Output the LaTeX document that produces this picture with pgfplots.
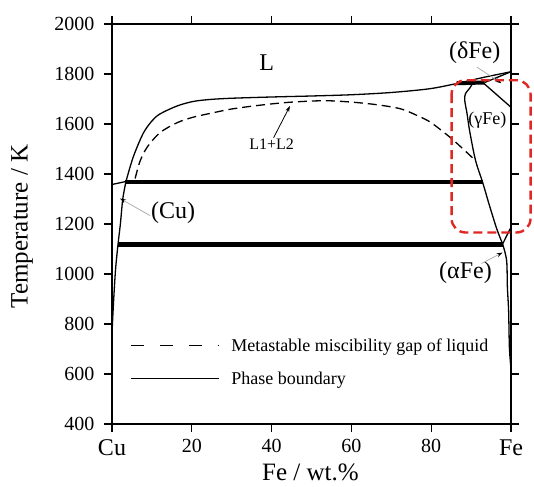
\documentclass[border=0pt]{standalone}
\usepackage{fontspec}
\setmainfont{Liberation Serif}
\usepackage{pgfplots}
\pgfplotsset{compat=1.18}
\usetikzlibrary{arrows.meta}
\definecolor{boxred}{RGB}{222,40,36}
\pgfplotsset{
  pb/.style={black, line width=1.3pt, no marks},
  tl/.style={black, line width=4.2pt, no marks},
  dl/.style={black, line width=1.3pt, no marks, dash pattern=on 9pt off 5pt},
}
\begin{document}
\begin{tikzpicture}
\begin{axis}[
  at={(0,0)}, anchor=south west,
  scale only axis, width=399pt, height=400pt,
  xmin=0, xmax=100, ymin=400, ymax=2000,
  xtick={0,20,40,60,80,100},
  xticklabels={{\fontsize{24}{28}\selectfont Cu},20,40,60,80,{\fontsize{24}{28}\selectfont Fe}},
  ytick={400,600,...,2000},
  tick align=outside,
  major tick length=8pt,
  tick style={line width=1.2pt, black},
  axis line style={line width=1.5pt},
  ticklabel style={font=\fontsize{20}{24}\selectfont},
  yticklabel style={xshift=-6pt},
  xticklabel style={yshift=-4pt},
  /pgf/number format/assume math mode=true,
  /pgf/number format/1000 sep={},
  clip=false,
  xlabel={Fe / wt.\%},
  ylabel={Temperature / K},
  label style={font=\fontsize{25}{30}\selectfont},
  xlabel style={at={(axis description cs:0.4975,-0.12)}, anchor=center},
  ylabel style={at={(axis description cs:-0.2256,0.494)}, anchor=center},
  legend style={draw=none, fill=none, at={(axis cs:4.5,751)}, anchor=north west,
    font=\fontsize{18}{21}\selectfont, row sep=15pt, inner sep=0pt},
  legend cell align=left,
  legend image code/.code={\draw[#1] (0pt,0pt) -- (88pt,0pt); \path (98pt,0pt);},
]
\addlegendimage{black, line width=1.3pt, dash pattern=on 13pt off 16pt}
\addlegendentry{Metastable miscibility gap of liquid}
\addlegendimage{black, line width=1.3pt}
\addlegendentry{Phase boundary}

% Cu liquidus short
\addplot[pb] coordinates {(0,1358) (3.5,1370)};
% main liquidus
\addplot[pb, smooth, tension=0.5] coordinates {
(3.5,1370) (5.3,1467) (7.8,1562) (10,1612) (12,1640) (16.3,1672) (20.3,1690)
(24.5,1698) (30,1703) (40,1708) (50,1712) (60,1717) (70,1726) (79.6,1741)
(86.4,1762) (93,1786) (100,1809)};
% Cu solvus
\addplot[pb, smooth, tension=0.5] coordinates {
(3.5,1370) (2.7,1300) (2.1,1200) (1.5,1118) (0.9,1020) (0.5,920) (0.2,830) (0,760)};
% metastable miscibility gap
\addplot[dl, smooth, tension=0.5] coordinates {
(5.8,1382) (7,1450) (8.8,1507) (12,1565) (16.3,1605) (20.3,1627) (24.5,1642)
(30,1660) (37,1675) (44.6,1687) (54,1693) (63.8,1682) (72,1662) (77,1630)
(80,1605) (84.7,1547) (88,1500) (91,1455)};
% delta peritectic
\addplot[black, line width=4pt, no marks] coordinates {(86.4,1763) (93.4,1766)};
% delta solidus
\addplot[pb] coordinates {(93.4,1766) (100,1809)};
% delta/gamma
\addplot[pb] coordinates {(93,1765) (100,1667)};
% gamma left boundary
\addplot[pb, smooth, tension=0.5] coordinates {
(90.4,1763) (89.6,1742) (88.6,1722) (88.4,1695) (89.0,1640) (89.6,1575)
(91.1,1455) (92.9,1366) (94.6,1274) (96.4,1182) (97.9,1120)};
% gamma/alpha
\addplot[pb] coordinates {(97.9,1120) (99.7,1178) (100,1185)};
% alpha solvus
\addplot[pb, smooth, tension=0.5] coordinates {
(97.9,1120) (98.9,1054) (99.1,945) (99.4,853) (99.6,705) (100,620)};
% horizontal invariant lines
\addplot[tl] coordinates {(3.3,1369) (92.9,1369)};
\addplot[tl] coordinates {(1.5,1118) (97.9,1118)};

% labels
\node[font=\fontsize{24}{28}\selectfont] at (axis cs:38.8,1844) {L};
\node[font=\fontsize{16}{19}\selectfont] at (axis cs:40,1519) {L1+L2};
\draw[black, line width=0.8pt, -{Stealth[length=6pt,width=4pt]}] (axis cs:40.5,1545) -- (axis cs:44.6,1672);
\node[font=\fontsize{24}{28}\selectfont] at (axis cs:15.3,1246) {(Cu)};
\draw[gray!70, line width=0.7pt, -{Stealth[length=6pt,width=4pt,color=black]}] (axis cs:9.5,1234) -- (axis cs:2.0,1302);
\node[font=\fontsize{24}{28}\selectfont] at (axis cs:90.9,1884) {(δFe)};
\draw[gray!70, line width=0.7pt, -{Stealth[length=6pt,width=4pt,color=black]}] (axis cs:91.4,1828) -- (axis cs:97.6,1763);
\node[font=\fontsize{18}{21}\selectfont] at (axis cs:94.1,1615) {(γFe)};
\node[font=\fontsize{24}{28}\selectfont] at (axis cs:88.6,1006) {(αFe)};
\draw[gray!70, line width=0.7pt, -{Stealth[length=6pt,width=4pt,color=black]}] (axis cs:92.6,1042) -- (axis cs:97.9,1086);

% red highlight box
\draw[boxred, line width=2.4pt, dash pattern=on 9pt off 5pt, rounded corners=14pt]
  (axis cs:85.1,1775) rectangle (axis cs:104.9,1166);
\end{axis}
\path (-112pt,-62pt) rectangle (422pt,424pt);
\end{tikzpicture}
\end{document}
